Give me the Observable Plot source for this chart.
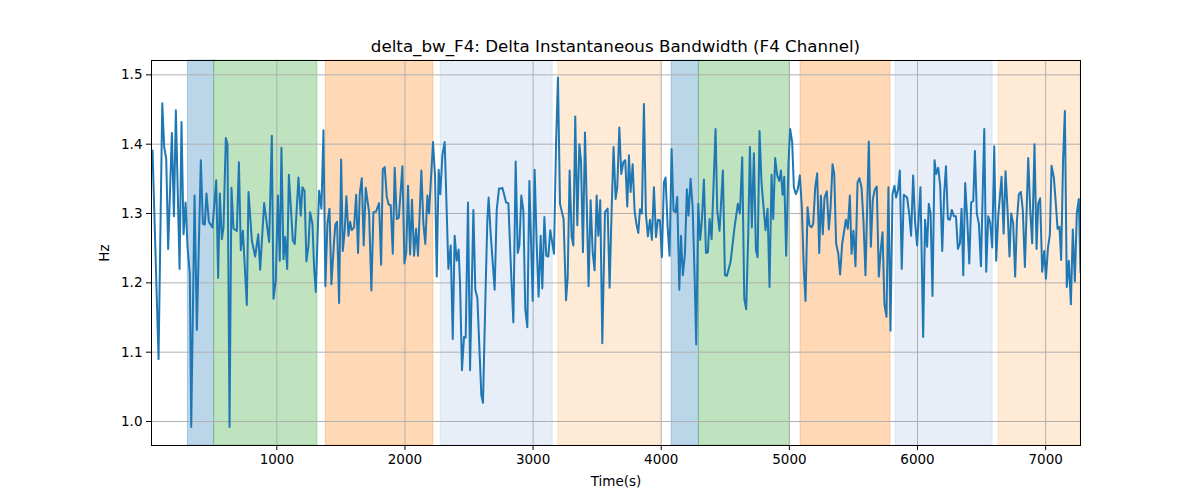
<!DOCTYPE html>
<html>
<head>
<meta charset="utf-8">
<script src="https://cdn.jsdelivr.net/npm/d3@7"></script>
<script src="https://cdn.jsdelivr.net/npm/@observablehq/plot@0.6"></script>
<style>
  html, body { margin: 0; padding: 0; background: #fff; }
  #wrap { width: 1200px; height: 500px; position: relative; font-family: "DejaVu Sans", sans-serif; }
  #title { position: absolute; left: 151px; width: 929px; top: 35px; text-align: center; font-size: 16.7px; color: #000; line-height: 22px; z-index: 2; }
  #chart { position: absolute; left: 0; top: 36px; z-index: 1; }
</style>
</head>
<body>
<div id="wrap">
  <div id="title"></div>
  <div id="chart"></div>
</div>
<script>
const titleText = "delta_bw_F4: Delta Instantaneous Bandwidth (F4 Channel)";
const xLabel = "Time(s)";
const yLabel = "Hz";
const xTicks = [1000, 2000, 3000, 4000, 5000, 6000, 7000];
const yTicks = [1.0, 1.1, 1.2, 1.3, 1.4, 1.5];

const time = [30,77,106,121,137,152,181,197,212,241,256,272,288,303,321,332,358,376,407,423,438,451,470,484,498,527,542,555,571,584,602,615,631,646,662,688,704,719,735,766,779,805,831,855,870,901,940,961,974,992,1008,1023,1036,1052,1065,1081,1094,1125,1140,1169,1187,1200,1216,1231,1247,1260,
1278,1291,1304,1330,1348,1364,1379,1395,1411,1426,1447,1457,1470,1486,1502,1515,1530,1543,1559,1572,1585,1603,1619,1634,1647,1663,1678,1694,1720,1738,1754,1775,1798,1814,1827,1842,1858,1873,1889,1905,1920,1936,1952,1980,1996,2010,2024,2040,2055,2071,2087,2102,2128,2144,2159,2175,2188,2219,2235,2248,2263,2276,2292,2310,2339,2357,2373,2388,2404,2419,2430,2445,2461,2474,2492,2508,
2534,2549,2565,2596,2609,2630,2643,2653,2669,2700,2716,2734,2747,2760,2773,2789,2807,2830,2846,2864,2880,2893,2908,2924,2939,2955,2971,2997,3012,3028,3043,3059,3072,3088,3103,3119,3134,3147,3163,3179,3194,3210,3225,3238,3257,3270,3285,3301,3314,3329,3345,3361,3374,3389,3405,3418,3433,3449,3465,3480,3496,3509,3524,3540,3561,3582,3597,3613,3628,3644,3657,3673,3688,3704,3719,3735,3748,3761,3777,3792,3806,3821,3834,3849,3865,3880,3896,3912,3927,3943,3959,3974,3990,4005,4021,4034,4050,4065,4081,4096,4112,4125,4141,4154,4169,4185,4200,4213,4229,4245,4260,4273,4289,4304,4317,4333,4349,4364,4377,4393,4424,4437,4455,4481,4497,4512,4541,4572,4598,4614,4632,4648,4663,4679,4692,4707,4723,4739,4752,4767,4783,4814,4830,4845,4861,4874,4889,4905,4921,4934,4947,4960,4975,4993,5006,
5022,5035,5051,5066,5082,5097,5113,5126,5142,5157,5173,5186,5202,5217,5233,5246,5261,5274,5292,5308,5321,5337,5350,5365,5381,5396,5412,5441,5456,5472,5485,5500,5516,5532,5547,5563,5578,5594,5620,5636,5651,5667,5682,5698,5713,5727,5742,5758,5773,5789,5805,5820,5833,5849,5862,5877,5893,5919,5935,5950,5966,5981,5997,6023,6044,6059,6075,6088,6102,6117,6133,6146,6162,6177,6193,6208,6222,6237,6253,6268,6284,6300,6315,6331,6344,6357,6372,6388,6404,6419,6435,6448,6463,6479,6495,6521,6536,6552,6567,6583,6599,6614,6630,6656,6672,6687,6703,6718,6731,6747,6762,6776,6791,6807,6822,6838,6864,6880,6895,6913,6929,6942,6957,6973,6989,7002,7018,7033,7046,7064,7078,7093,7108,7121,7136,7150,7165,7181,7197,7212,7228,7243,7259,7272];

const bw = [1.391,1.090,1.459,1.396,1.379,1.249,1.416,1.296,1.449,1.220,1.432,1.270,1.316,1.252,1.213,0.992,1.326,1.132,1.377,1.285,1.284,1.329,1.288,1.284,1.280,1.348,1.207,1.329,1.263,1.280,1.409,1.400,0.992,1.337,1.278,1.275,1.374,1.247,1.275,1.168,1.331,1.261,1.238,1.270,1.219,1.315,1.259,1.412,1.177,1.203,1.326,1.232,1.395,1.234,1.266,1.220,1.356,1.261,1.256,1.352,1.297,1.338,1.333,1.231,1.254,1.302,
1.285,1.222,1.187,1.333,1.307,1.420,1.195,1.285,1.307,1.198,1.261,1.284,1.288,1.171,1.378,1.246,1.276,1.325,1.268,1.288,1.276,1.280,1.327,1.243,1.328,1.351,1.254,1.337,1.302,1.189,1.302,1.303,1.315,1.226,1.364,1.367,1.324,1.313,1.312,1.242,1.366,1.292,1.294,1.368,1.228,1.244,1.340,1.241,1.320,1.239,1.278,1.239,1.362,1.285,1.256,1.326,1.300,1.403,1.353,1.209,1.363,1.328,1.384,1.403,1.220,1.254,1.119,1.268,1.232,1.248,1.198,1.074,1.122,1.121,1.316,1.074,
1.305,1.190,1.178,1.038,1.027,1.195,1.290,1.323,1.270,1.190,1.305,1.336,1.336,1.337,1.328,1.316,1.315,1.208,1.143,1.375,1.243,1.254,1.326,1.304,1.162,1.136,1.347,1.174,1.363,1.256,1.180,1.268,1.192,1.295,1.239,1.238,1.276,1.261,1.242,1.400,1.496,1.314,1.302,1.292,1.175,1.208,1.362,1.266,1.254,1.440,1.283,1.400,1.376,1.244,1.417,1.319,1.195,1.319,1.244,1.218,1.326,1.268,1.319,1.113,1.302,1.307,1.193,1.305,1.396,1.321,1.338,1.424,1.357,1.374,1.377,1.310,1.384,1.331,1.371,1.304,1.285,1.272,1.306,1.300,1.458,1.300,1.267,1.291,1.262,1.338,1.266,1.291,1.290,1.237,1.345,1.352,1.280,1.239,1.393,1.304,1.302,1.324,1.190,1.268,1.211,1.242,1.335,1.297,1.350,1.309,1.213,1.111,1.314,1.262,1.290,1.349,1.243,1.244,1.292,1.263,1.422,1.304,1.275,1.362,1.211,1.210,1.230,1.280,1.314,1.300,1.381,1.177,1.162,1.270,1.396,1.280,1.387,1.247,1.237,1.419,1.343,1.276,1.307,1.194,1.356,1.292,1.380,1.355,1.347,1.362,1.327,1.353,1.239,1.372,1.422,
1.403,1.338,1.328,1.335,1.355,1.310,1.218,1.174,1.309,1.283,1.280,1.285,1.338,1.358,1.243,1.326,1.270,1.323,1.332,1.277,1.307,1.371,1.357,1.256,1.243,1.212,1.256,1.291,1.278,1.326,1.242,1.275,1.224,1.345,1.351,1.338,1.290,1.211,1.404,1.252,1.320,1.335,1.339,1.209,1.247,1.273,1.169,1.151,1.338,1.131,1.328,1.340,1.323,1.335,1.362,1.220,1.327,1.323,1.300,1.268,1.355,1.288,1.254,1.338,1.122,1.291,1.252,1.314,1.300,1.181,1.377,1.357,1.366,1.340,1.246,1.328,1.368,1.292,1.291,1.305,1.296,1.296,1.249,1.257,1.307,1.211,1.344,1.292,1.228,1.316,1.318,1.390,1.300,1.285,1.224,1.422,1.216,1.296,1.287,1.251,1.397,1.232,1.296,1.353,1.271,1.361,1.304,1.238,1.300,1.285,1.209,1.290,1.328,1.331,1.304,1.223,1.380,1.304,1.257,1.400,1.249,1.314,1.322,1.216,1.246,1.206,1.250,1.270,1.369,1.352,1.318,1.278,1.281,1.233,1.378,1.448,1.194,1.232,1.169,1.277,1.202,1.300,1.321,1.215];

const spanStart = [306, 511, 1382, 2279, 3197, 4081, 4294, 5087, 5828, 6632];
const spanEnd   = [511, 1317, 2222, 3153, 3997, 4294, 5004, 5789, 6586, 7272];
const spanColor = ["#1f77b4", "#2ca02c", "#ff7f0e", "#aec7e8", "#ffbb78", "#1f77b4", "#2ca02c", "#ff7f0e", "#aec7e8", "#ffbb78"];

document.getElementById("title").textContent = titleText;

const series = time.map((t, i) => ({t, v: bw[i]}));
const spans = spanStart.map((s, i) => ({x1: s, x2: spanEnd[i], c: spanColor[i]}));

const chart = Plot.plot({
  width: 1200,
  height: 464,
  marginLeft: 151,
  marginRight: 120,
  marginTop: 24,
  marginBottom: 55,
  style: {fontFamily: "DejaVu Sans, sans-serif", fontSize: "13.5px", color: "#000", background: "transparent"},
  x: {domain: [22, 7272], label: null},
  y: {domain: [0.9654, 1.5207], label: null},
  marks: [
    Plot.rectX(spans, {x1: "x1", x2: "x2", y1: 0.9654, y2: 1.5207, fill: "c", fillOpacity: 0.3, stroke: "c", strokeOpacity: 0.3, strokeWidth: 1}),
    Plot.gridX(xTicks, {stroke: "#b0b0b0", strokeOpacity: 1, strokeWidth: 1}),
    Plot.gridY(yTicks, {stroke: "#b0b0b0", strokeOpacity: 1, strokeWidth: 1}),
    Plot.lineY(series, {x: "t", y: "v", stroke: "#1f77b4", strokeWidth: 2, strokeLinejoin: "round", clip: true}),
    Plot.axisX(xTicks, {tickSize: 5, tickPadding: 4, tickFormat: d => String(d), label: xLabel, labelAnchor: "center", labelArrow: "none", labelOffset: 40, fontSize: 13.5}),
    Plot.axisY(yTicks, {tickSize: 5, tickPadding: 4, tickFormat: d3.format(".1f"), label: yLabel, labelAnchor: "center", labelArrow: "none", labelOffset: 52, fontSize: 13.5}),
    Plot.frame({stroke: "#000", strokeWidth: 1})
  ]
});
document.getElementById("chart").appendChild(chart);
</script>
</body>
</html>
